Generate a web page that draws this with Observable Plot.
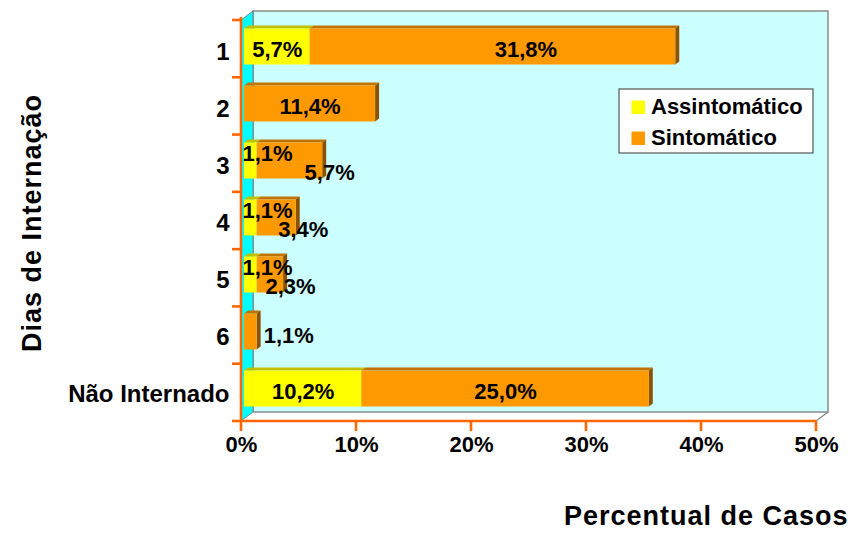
<!DOCTYPE html>
<html>
<head>
<meta charset="utf-8">
<script src="https://cdn.jsdelivr.net/npm/d3@7"></script>
<script src="https://cdn.jsdelivr.net/npm/@observablehq/plot@0.6"></script>
<style>
  body { margin: 0; background: #fff; }
</style>
</head>
<body>
<div id="chart"></div>
<script>
// Dias de internação × percentual de casos (assintomáticos / sintomáticos)
const categories = ["1", "2", "3", "4", "5", "6", "Não Internado"];
const series = ["Assintomático", "Sintomático"];
const assintomatico = [5.7, 0, 1.1, 1.1, 1.1, 0, 10.2];
const sintomatico = [31.8, 11.4, 5.7, 3.4, 2.3, 1.1, 25.0];
const xTicks = [0, 10, 20, 30, 40, 50];
const xTitle = "Percentual de Casos";
const yTitle = "Dias de Internação";
const seriesColors = ["#ffff00", "#ff9900"];

const FONT = "Liberation Sans, Arial, Helvetica, sans-serif";
const AXIS = "#ff6600";
const fmt = v => v.toFixed(1).replace(".", ",") + "%";

// stacked segments
const segments = [];
categories.forEach((cat, i) => {
  const vals = [assintomatico[i], sintomatico[i]];
  let acc = 0;
  const total = vals[0] + vals[1];
  vals.forEach((v, j) => {
    if (v > 0) {
      segments.push({cat, series: series[j], x1: acc, x2: acc + v, value: v, last: acc + v === total});
    }
    acc += v;
  });
});

// value labels, grouped by how they sit on the bar
const labels = [];
categories.forEach((cat, i) => {
  const a = assintomatico[i], s = sintomatico[i];
  const crowded = a > 0 && a < 3 && s < 8;
  if (a > 0) {
    labels.push(crowded
      ? {cat, x: 0, text: fmt(a), place: "above"}
      : {cat, x: a / 2, text: fmt(a), place: "inside"});
  }
  if (s > 0) {
    if (crowded) labels.push({cat, x: a + s, text: fmt(s), place: "below"});
    else if (s < 3) labels.push({cat, x: a + s, text: fmt(s), place: "outside"});
    else labels.push({cat, x: a + s / 2, text: fmt(s), place: cat === "1" ? "insideRight" : "inside"});
  }
});
const placements = {
  inside: {textAnchor: "middle", dx: 3, dy: -0.7},
  insideRight: {textAnchor: "middle", dx: 36, dy: -0.7},
  above: {textAnchor: "start", dx: 1, dy: -11},
  below: {textAnchor: "middle", dx: 10, dy: 8.4},
  outside: {textAnchor: "start", dx: 9.5, dy: 0.6}
};

// 3D geometry
const SHIFT = {x: 3, y: -3.5};   // bar front face offset inside the box
const DEPTH = {x: 4, y: -3};     // bar depth
const WALL = {x: 12, y: -9};     // box depth
const PAD = 0.37;

const svgNS = "http://www.w3.org/2000/svg";
function el(tag, attrs, parent) {
  const e = document.createElementNS(svgNS, tag);
  for (const k in attrs) e.setAttribute(k, attrs[k]);
  if (parent) parent.appendChild(e);
  return e;
}
const pts = a => a.map(p => p.join(",")).join(" ");

function frameOf(d) {
  return {
    left: d.marginLeft, right: d.width - d.marginRight,
    top: d.marginTop, bottom: d.height - d.marginBottom
  };
}

// back wall, side wall and floor
function box(index, scales, values, dims) {
  const f = frameOf(dims);
  const g = el("g", {"aria-label": "walls"});
  el("polygon", {points: pts([[f.left, f.bottom], [f.left + WALL.x, f.bottom + WALL.y], [f.right + WALL.x, f.bottom + WALL.y], [f.right, f.bottom]]), fill: "#ffffff", stroke: "none"}, g);
  el("rect", {x: f.left + WALL.x, y: f.top + WALL.y, width: f.right - f.left, height: f.bottom - f.top, fill: "#ccffff", stroke: "#8c8c8c", "stroke-width": 1.5}, g);
  el("polygon", {points: pts([[f.left, f.top], [f.left + WALL.x, f.top + WALL.y], [f.left + WALL.x, f.bottom + WALL.y], [f.left, f.bottom]]), fill: "#00ffff", stroke: "#6f6f6f", "stroke-width": 0.8}, g);
  el("line", {x1: f.right + WALL.x, y1: f.bottom + WALL.y, x2: f.right, y2: f.bottom, stroke: "#8c8c8c", "stroke-width": 1.5}, g);
  return g;
}

// orange axis lines and ticks (category ticks sit between the bands)
function axes(index, scales, values, dims) {
  const f = frameOf(dims);
  const g = el("g", {"aria-label": "axes", stroke: AXIS, "stroke-width": 2.6, fill: "none"});
  el("line", {x1: f.left, y1: f.top - 3, x2: f.left, y2: f.bottom}, g);
  el("line", {x1: f.left, y1: f.bottom, x2: f.right, y2: f.bottom}, g);
  const step = (f.bottom - f.top) / categories.length;
  for (let k = 0; k <= categories.length; ++k) {
    const y = f.top + k * step;
    el("line", {x1: f.left - 9, y1: y, x2: f.left, y2: y}, g);
  }
  for (const t of xTicks) {
    const x = scales.x(t);
    el("line", {x1: x, y1: f.bottom, x2: x, y2: f.bottom + 10}, g);
  }
  return g;
}

// top and right faces of the bars
function barFaces(index, scales, values, dims) {
  const f = frameOf(dims);
  const bw = ((f.bottom - f.top) / categories.length) * (1 - PAD);
  const g = el("g", {"aria-label": "bar faces"});
  for (const s of segments) {
    const base = scales.color ? scales.color(s.series) : seriesColors[series.indexOf(s.series)];
    const x1 = scales.x(s.x1) + SHIFT.x, x2 = scales.x(s.x2) + SHIFT.x;
    const y1 = scales.y(s.cat) + SHIFT.y, y2 = y1 + bw;
    el("polygon", {points: pts([[x1, y1], [x2, y1], [x2 + DEPTH.x, y1 + DEPTH.y], [x1 + DEPTH.x, y1 + DEPTH.y]]), fill: d3.color(base).darker(0.8).formatHex()}, g);
    if (s.last) {
      el("polygon", {points: pts([[x2, y1], [x2 + DEPTH.x, y1 + DEPTH.y], [x2 + DEPTH.x, y2 + DEPTH.y], [x2, y2]]), fill: d3.color(base).darker(1.7).formatHex()}, g);
    }
  }
  return g;
}

// legend box
function legend(index, scales, values, dims) {
  const f = frameOf(dims);
  const g = el("g", {"aria-label": "legend", "font-family": FONT, "font-weight": "bold", "font-size": 22, "text-anchor": "start"});
  const x0 = f.right - 197, y0 = f.top + 69;
  el("rect", {x: x0, y: y0, width: 194, height: 64, fill: "#ffffff", stroke: "#555", "stroke-width": 1.2}, g);
  series.forEach((name, i) => {
    const y = y0 + 11.5 + i * 31;
    const c = scales.color ? scales.color(name) : seriesColors[i];
    el("rect", {x: x0 + 12.5, y, width: 13.5, height: 13.5, fill: c}, g);
    const t = el("text", {x: x0 + 32, y: y + 13.5, fill: "#000", "text-anchor": "start"}, g);
    t.textContent = name;
  });
  return g;
}

const labelMarks = Object.entries(placements).map(([place, opt]) =>
  Plot.text(labels.filter(d => d.place === place), {
    x: "x", y: "cat", text: "text", ...opt,
    fontSize: 22, fontWeight: "bold", fill: "#000"
  })
);

const chart = Plot.plot({
  width: 850,
  height: 540,
  marginLeft: 241,
  marginRight: 34,
  marginTop: 20,
  marginBottom: 119,
  style: {fontFamily: FONT, background: "#fff", overflow: "visible"},
  x: {domain: [0, 50], axis: null},
  y: {domain: categories, axis: null, paddingInner: PAD, paddingOuter: PAD / 2},
  color: {domain: series, range: seriesColors},
  marks: [
    box,
    axes,
    barFaces,
    Plot.barX(segments, {x1: "x1", x2: "x2", y: "cat", fill: "series", dx: SHIFT.x, dy: SHIFT.y}),
    ...labelMarks,
    // category labels
    Plot.text(categories, {y: d => d, text: d => d, frameAnchor: "left", textAnchor: "end", dx: -12, dy: 2, fontSize: 24, fontWeight: "bold", fill: "#000"}),
    // percentage tick labels
    Plot.text(xTicks, {x: d => d, text: d => d + "%", frameAnchor: "bottom", dy: 30, fontSize: 22, fontWeight: "bold", fill: "#000"}),
    // axis titles
    Plot.text([xTitle], {frameAnchor: "bottom-right", textAnchor: "end", dx: 32, dy: 103.5, fontSize: 27, fontWeight: "bold", fill: "#000"}),
    Plot.text([yTitle], {frameAnchor: "left", textAnchor: "middle", rotate: -90, dx: -209, dy: 2, fontSize: 27, fontWeight: "bold", fill: "#000"}),
    legend
  ]
});

// slightly wider tracking on the two axis titles
d3.select(chart).selectAll("text")
  .filter(function () { return this.textContent === xTitle || this.textContent === yTitle; })
  .attr("letter-spacing", "1px");

document.getElementById("chart").appendChild(chart);
</script>
</body>
</html>
